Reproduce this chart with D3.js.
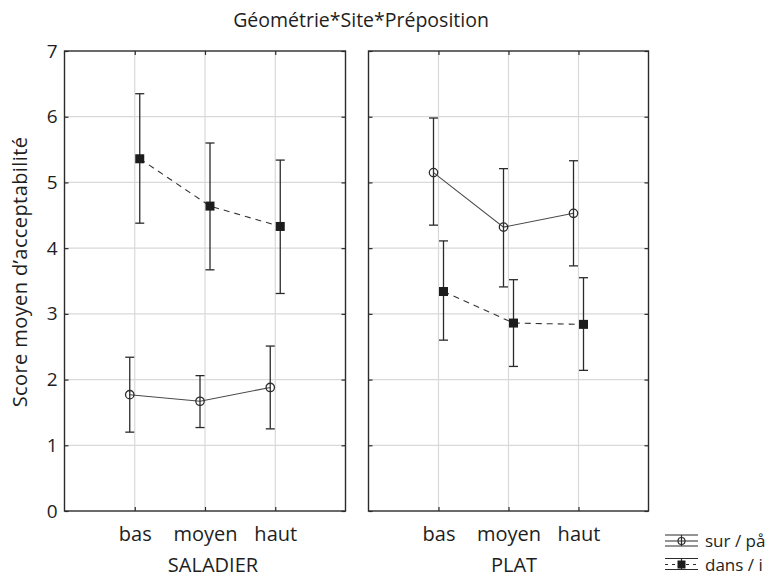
<!DOCTYPE html>
<html>
<head>
<meta charset="utf-8">
<script src="https://cdn.jsdelivr.net/npm/d3@7"></script>
<style>
  html, body { margin: 0; padding: 0; background: #fff; }
  svg { display: block; font-family: "Open Sans", "Noto Sans", sans-serif; }
</style>
</head>
<body>
<svg id="chart" width="780" height="580"></svg>
<script>
// Factor levels
const sites = ["bas", "moyen", "haut"];
const geometries = ["SALADIER", "PLAT"];
const prepositions = ["sur / på", "dans / i"];
const yTicks = [0, 1, 2, 3, 4, 5, 6, 7];

// Mean acceptability scores and confidence limits, per geometry (rows: sur, dans)
const saladierMean  = [[1.77, 1.67, 1.88], [5.36, 4.64, 4.33]];
const saladierLow   = [[1.20, 1.27, 1.25], [4.38, 3.67, 3.31]];
const saladierHigh  = [[2.34, 2.06, 2.51], [6.35, 5.60, 5.34]];
const platMean      = [[5.15, 4.32, 4.53], [3.34, 2.86, 2.84]];
const platLow       = [[4.35, 3.41, 3.73], [2.60, 2.20, 2.14]];
const platHigh      = [[5.98, 5.21, 5.33], [4.11, 3.52, 3.55]];

const panelData = [
  { name: geometries[0], mean: saladierMean, low: saladierLow, high: saladierHigh },
  { name: geometries[1], mean: platMean, low: platLow, high: platHigh }
];

const svg = d3.select("#chart");
const plotTop = 51, plotBottom = 511;
const panels = [
  { left: 64.5, width: 281, labelX: 213 },
  { left: 368.5, width: 280, labelX: 514 }
];
const dodge = [-5, 5];
const ink = "#2b2b2b";
const gridColor = "#d9d9d9";
const textColor = "#1e1e1e";

const y = d3.scaleLinear().domain([0, 7]).range([plotBottom, plotTop]);

// Title
svg.append("text")
  .attr("x", 361).attr("y", 27)
  .attr("text-anchor", "middle")
  .attr("font-size", 19.5)
  .attr("fill", textColor)
  .text("Géométrie*Site*Préposition");

// Y axis title
svg.append("text")
  .attr("transform", "translate(27,272) rotate(-90)")
  .attr("text-anchor", "middle")
  .attr("font-size", 20)
  .attr("letter-spacing", 0.4)
  .attr("fill", textColor)
  .text("Score moyen d’acceptabilité");

// Y tick labels on the left panel
const yAxis = svg.append("g")
  .attr("transform", `translate(${panels[0].left},0)`)
  .call(d3.axisLeft(y).tickValues(yTicks).tickFormat(d3.format("d")).tickSize(0).tickPadding(7));
yAxis.select(".domain").remove();
yAxis.selectAll("text").attr("font-size", 19).attr("fill", textColor)
  .attr("font-family", "\"Open Sans\", sans-serif");

panelData.forEach((pd, pi) => {
  const p = panels[pi];
  const g = svg.append("g").attr("transform", `translate(${p.left},0)`);
  const x = d3.scalePoint().domain(sites).range([0, p.width]).padding(1);

  // Horizontal grid
  g.append("g").selectAll("line")
    .data(yTicks.filter(t => t > 0 && t < 7))
    .join("line")
    .attr("x1", 0).attr("x2", p.width)
    .attr("y1", d => y(d)).attr("y2", d => y(d))
    .attr("stroke", gridColor).attr("stroke-width", 1.2);

  // Vertical grid
  g.append("g").selectAll("line")
    .data(sites)
    .join("line")
    .attr("x1", d => x(d)).attr("x2", d => x(d))
    .attr("y1", plotTop).attr("y2", plotBottom)
    .attr("stroke", gridColor).attr("stroke-width", 1.2);

  // Inward ticks on all four sides
  const tl = g.append("g").call(d3.axisLeft(y).tickValues(yTicks).tickSize(-4).tickFormat(""));
  const tr = g.append("g").attr("transform", `translate(${p.width},0)`)
    .call(d3.axisRight(y).tickValues(yTicks).tickSize(-4).tickFormat(""));
  const tt = g.append("g").attr("transform", `translate(0,${plotTop})`)
    .call(d3.axisTop(x).tickSize(-4).tickFormat(""));
  const tb = g.append("g").attr("transform", `translate(0,${plotBottom})`)
    .call(d3.axisBottom(x).tickSize(-4).tickFormat(""));
  [tl, tr, tt, tb].forEach(a => {
    a.select(".domain").remove();
    a.selectAll("line").attr("stroke", ink).attr("stroke-width", 1.2);
  });

  // Category labels
  const bx = g.append("g").attr("transform", `translate(0,${plotBottom})`)
    .call(d3.axisBottom(x).tickSize(0).tickPadding(16));
  bx.select(".domain").remove();
  bx.selectAll("text").attr("font-size", 20).attr("fill", textColor)
    .attr("font-family", "\"Open Sans\", sans-serif");

  // Panel frame
  g.append("rect")
    .attr("x", 0).attr("y", plotTop).attr("width", p.width).attr("height", plotBottom - plotTop)
    .attr("fill", "none").attr("stroke", ink).attr("stroke-width", 1.4);

  // Geometry label
  svg.append("text")
    .attr("x", p.labelX).attr("y", 572)
    .attr("text-anchor", "middle")
    .attr("font-size", 20).attr("fill", textColor)
    .text(pd.name);

  // Series: connecting line, error bars, markers
  prepositions.forEach((s, si) => {
    const pts = sites.map((c, ci) => ({
      x: x(c) + dodge[si],
      m: pd.mean[si][ci], lo: pd.low[si][ci], hi: pd.high[si][ci]
    }));
    const line = d3.line().x(d => d.x).y(d => y(d.m));
    g.append("path")
      .attr("d", line(pts))
      .attr("fill", "none")
      .attr("stroke", si === 0 ? "#4a4a4a" : "#333")
      .attr("stroke-width", 1.1)
      .attr("stroke-dasharray", si === 0 ? null : "6,5");

    const eb = g.append("g").attr("stroke", ink).attr("stroke-width", 1.3);
    eb.selectAll("line.v").data(pts).join("line").attr("class", "v")
      .attr("x1", d => d.x).attr("x2", d => d.x)
      .attr("y1", d => y(d.lo)).attr("y2", d => y(d.hi));
    eb.selectAll("line.hc").data(pts).join("line").attr("class", "hc")
      .attr("x1", d => d.x - 4.5).attr("x2", d => d.x + 4.5)
      .attr("y1", d => y(d.hi)).attr("y2", d => y(d.hi));
    eb.selectAll("line.lc").data(pts).join("line").attr("class", "lc")
      .attr("x1", d => d.x - 4.5).attr("x2", d => d.x + 4.5)
      .attr("y1", d => y(d.lo)).attr("y2", d => y(d.lo));

    if (si === 0) {
      g.append("g").selectAll("circle").data(pts).join("circle")
        .attr("cx", d => d.x).attr("cy", d => y(d.m)).attr("r", 4.2)
        .attr("fill", "none").attr("stroke", ink).attr("stroke-width", 1.3);
    } else {
      g.append("g").selectAll("rect").data(pts).join("rect")
        .attr("x", d => d.x - 4.5).attr("y", d => y(d.m) - 4.5)
        .attr("width", 9).attr("height", 9)
        .attr("fill", "#1c1c1c");
    }
  });
});

// Legend
const legendRows = [541, 564.5];
const lg = svg.append("g");
prepositions.forEach((s, si) => {
  const cy = legendRows[si];
  const row = lg.append("g").attr("stroke", ink).attr("stroke-width", 1.2);
  const x0 = 665, x1 = 698, xc = 681.5;
  row.append("line").attr("x1", x0).attr("x2", x1).attr("y1", cy - 6).attr("y2", cy - 6);
  row.append("line").attr("x1", x0).attr("x2", x1).attr("y1", cy + 5).attr("y2", cy + 5);
  row.append("line").attr("x1", x0).attr("x2", x1).attr("y1", cy).attr("y2", cy)
    .attr("stroke-dasharray", si === 0 ? null : "3,4");
  row.append("line").attr("x1", xc).attr("x2", xc).attr("y1", cy - 6).attr("y2", cy + 5);
  if (si === 0) {
    row.append("circle").attr("cx", xc).attr("cy", cy).attr("r", 3.5).attr("fill", "none");
  } else {
    row.append("rect").attr("x", xc - 4).attr("y", cy - 4).attr("width", 8).attr("height", 8)
      .attr("fill", "#1c1c1c").attr("stroke", "none");
  }
  lg.append("text")
    .attr("x", 705).attr("y", cy + 6)
    .attr("font-size", 17).attr("fill", textColor)
    .text(s);
});
</script>
</body>
</html>
